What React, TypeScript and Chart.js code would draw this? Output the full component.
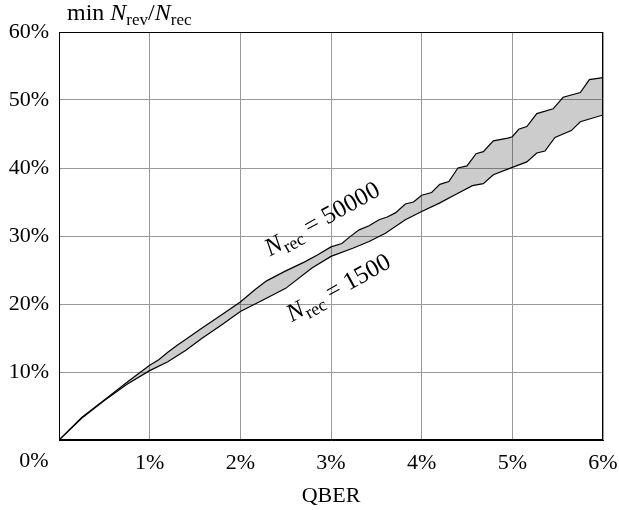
import React, { useEffect, useRef } from "react";
import { Chart, registerables } from "chart.js";

Chart.register(...registerables);

// QBER (%) sample positions and values (%) for N_rec = 50000 (upper curve)
const qberUpper = [0, 0.25, 0.5, 0.75, 1.0, 1.1, 1.2, 1.3, 1.4, 1.57, 1.75, 2.0, 2.16, 2.29, 2.49, 2.71, 2.85, 3.0, 3.12, 3.2, 3.31, 3.42, 3.53, 3.62, 3.71, 3.82, 3.91, 4.0, 4.11, 4.2, 4.3, 4.4, 4.5, 4.6, 4.68, 4.79, 4.95, 5.0, 5.07, 5.16, 5.27, 5.45, 5.56, 5.75, 5.85, 6.0];
const valUpper = [0, 3.3, 5.9, 8.5, 11.0, 11.8, 12.9, 13.9, 14.8, 16.4, 18.0, 20.3, 22.1, 23.4, 24.8, 26.2, 27.2, 28.4, 28.9, 29.8, 30.9, 31.5, 32.4, 32.8, 33.4, 34.7, 35.0, 36.0, 36.4, 37.6, 38.0, 40.0, 40.3, 42.1, 42.4, 44.0, 44.4, 44.6, 45.7, 46.1, 48.0, 48.7, 50.4, 51.1, 53.0, 53.3];

// N_rec = 1500 (lower curve)
const qberLower = [0, 0.25, 0.5, 0.75, 1.0, 1.2, 1.4, 1.57, 1.8, 2.0, 2.25, 2.5, 2.79, 3.0, 3.24, 3.42, 3.6, 3.82, 4.0, 4.19, 4.4, 4.56, 4.68, 4.79, 5.0, 5.16, 5.27, 5.36, 5.47, 5.65, 5.75, 6.0];
const valLower = [0, 3.2, 5.8, 8.2, 10.2, 11.5, 13.2, 14.9, 17.0, 18.9, 20.6, 22.3, 25.3, 27.0, 28.2, 29.2, 30.4, 32.4, 33.6, 34.8, 36.3, 37.4, 37.7, 39.0, 40.1, 40.9, 42.2, 42.5, 44.5, 45.5, 46.8, 47.8];

const xTicks = [0, 1, 2, 3, 4, 5, 6];
const yTicks = [0, 10, 20, 30, 40, 50, 60];

const SERIF = "'Liberation Serif', 'DejaVu Serif', serif";

type Part = { t: string; it?: boolean; sub?: boolean };

function partFont(p: Part, size: number) {
  const s = p.sub ? Math.round(size * 0.72) : size;
  return `${p.it ? "italic " : ""}${s}px ${SERIF}`;
}

function measure(ctx: CanvasRenderingContext2D, parts: Part[], size: number) {
  let w = 0;
  for (const p of parts) {
    ctx.font = partFont(p, size);
    w += ctx.measureText(p.t).width;
  }
  return w;
}

function drawParts(ctx: CanvasRenderingContext2D, parts: Part[], x: number, y: number, size: number) {
  let cx = x;
  ctx.textBaseline = "alphabetic";
  ctx.textAlign = "left";
  for (const p of parts) {
    ctx.font = partFont(p, size);
    ctx.fillText(p.t, cx, p.sub ? y + size * 0.22 : y);
    cx += ctx.measureText(p.t).width;
  }
}

const decorPlugin = {
  id: "decor",
  afterDraw(chart: any) {
    const ctx: CanvasRenderingContext2D = chart.ctx;
    const a = chart.chartArea;
    const xs = chart.scales.x;
    const ys = chart.scales.y;
    ctx.save();
    ctx.strokeStyle = "#000";
    ctx.lineWidth = 1;
    ctx.strokeRect(Math.round(a.left) + 0.5, Math.round(a.top) + 0.5, Math.round(a.right - a.left) - 1, Math.round(a.bottom - a.top) - 1);
    ctx.fillStyle = "#000";

    // y-axis title
    drawParts(ctx, [
      { t: "min " },
      { t: "N", it: true },
      { t: "rev", sub: true },
      { t: "/" },
      { t: "N", it: true },
      { t: "rec", sub: true },
    ], 67, 20, 24);

    // shared origin label
    ctx.font = `22px ${SERIF}`;
    ctx.textAlign = "center";
    ctx.textBaseline = "middle";
    ctx.fillText("0%", xs.getPixelForValue(0) - 25, ys.getPixelForValue(0) + 21);

    // x-axis title
    ctx.fillText("QBER", (a.left + a.right) / 2, 496);

    // curve labels
    const lab = (parts: Part[], qx: number, qy: number, dy: number) => {
      const px = xs.getPixelForValue(qx);
      const py = ys.getPixelForValue(qy) + dy;
      const w = measure(ctx, parts, 25);
      ctx.save();
      ctx.translate(px, py);
      ctx.rotate((-29 * Math.PI) / 180);
      drawParts(ctx, parts, -w / 2, 8, 25);
      ctx.restore();
    };
    lab([{ t: "N", it: true }, { t: "rec", sub: true }, { t: " = 50000" }], 2.9, 28.6, -27);
    lab([{ t: "N", it: true }, { t: "rec", sub: true }, { t: " = 1500" }], 3.08, 26.7, 29);
    ctx.restore();
  },
};

export default function App() {
  const ref = useRef<HTMLCanvasElement | null>(null);
  useEffect(() => {
    document.body.style.margin = "0";
    const canvas = ref.current!;
    const chart = new Chart(canvas, {
      type: "line",
      data: {
        datasets: [
          {
            label: "N_rec = 50000",
            data: qberUpper.map((q, i) => ({ x: q, y: valUpper[i] })),
            borderColor: "#000",
            borderWidth: 1.2,
            pointRadius: 0,
            tension: 0,
            fill: "+1",
            backgroundColor: "rgba(0,0,0,0.2)",
          },
          {
            label: "N_rec = 1500",
            data: qberLower.map((q, i) => ({ x: q, y: valLower[i] })),
            borderColor: "#000",
            borderWidth: 1.2,
            pointRadius: 0,
            tension: 0,
            fill: false,
          },
        ],
      },
      options: {
        responsive: false,
        animation: false,
        layout: { padding: { top: 32, right: 16, left: 0, bottom: 0 } },
        plugins: {
          legend: { display: false },
          tooltip: { enabled: false },
        },
        scales: {
          x: {
            type: "linear",
            min: 0,
            max: 6,
            afterBuildTicks: (s: any) => {
              s.ticks = xTicks.map((v) => ({ value: v }));
            },
            afterFit: (s: any) => {
              s.height = 70;
              s.paddingRight = 0;
              s.paddingLeft = 0;
            },
            grid: { color: "#9a9a9a", lineWidth: 1, drawTicks: false },
            border: { display: true, color: "#000", width: 1 },
            ticks: {
              padding: 10,
              color: "#000",
              maxRotation: 0,
              font: { family: SERIF, size: 22 },
              callback: (v: any) => (v === 0 ? "" : `${v}%`),
            },
          },
          y: {
            type: "linear",
            min: 0,
            max: 60,
            afterBuildTicks: (s: any) => {
              s.ticks = yTicks.map((v) => ({ value: v }));
            },
            afterFit: (s: any) => {
              s.width = 59;
            },
            grid: { color: "#9a9a9a", lineWidth: 1, drawTicks: false },
            border: { display: true, color: "#000", width: 1 },
            ticks: {
              padding: 10,
              color: "#000",
              font: { family: SERIF, size: 22 },
              callback: (v: any) => (v === 0 ? "" : `${v}%`),
            },
          },
        },
      },
      plugins: [decorPlugin],
    });
    return () => chart.destroy();
  }, []);
  return (
    <div style={{ position: "absolute", left: 0, top: 0, width: 619, height: 510, background: "#fff" }}>
      <canvas ref={ref} width={619} height={510} />
    </div>
  );
}
